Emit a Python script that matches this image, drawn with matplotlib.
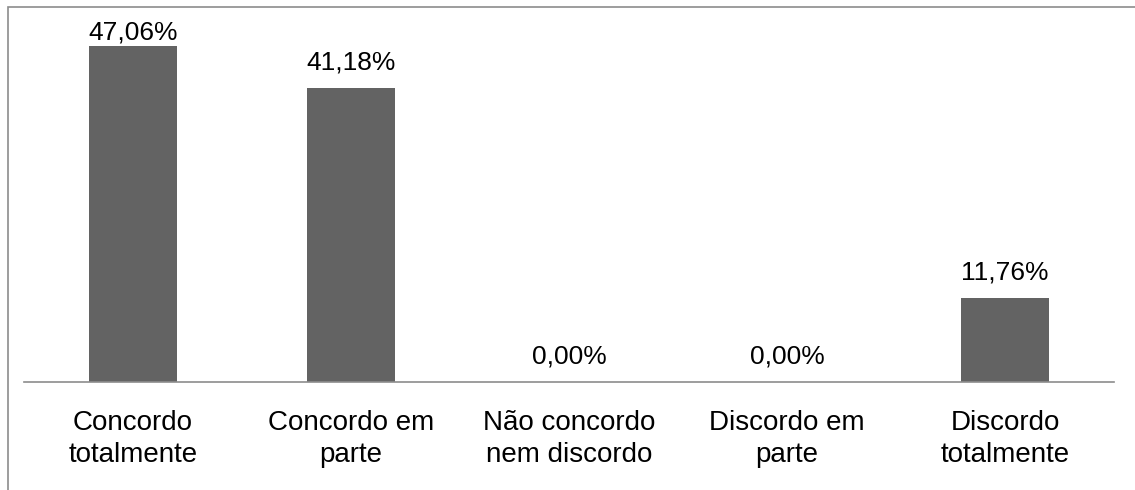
import matplotlib.pyplot as plt
from matplotlib.patches import Rectangle

categorias = ["Concordo\ntotalmente", "Concordo em\nparte", "Não concordo\nnem discordo",
              "Discordo em\nparte", "Discordo\ntotalmente"]
valores = [47.06, 41.18, 0.00, 0.00, 11.76]

plt.rcParams['font.family'] = ['Liberation Sans', 'DejaVu Sans']

fig = plt.figure(figsize=(11.35, 4.9), dpi=100)
ax = fig.add_axes([24 / 1135, 108 / 490, 1090 / 1135, 357 / 490])

x = range(len(valores))
bars = ax.bar(x, valores, width=0.404, color="#636363")
ax.set_xlim(-0.5, len(valores) - 0.5)
ax.set_ylim(0, 50)

# labels sit a little above the bar, but are kept inside the plot area
for b, v in zip(bars, valores):
    y = min(v + 2.65, 48.0)
    ax.text(b.get_x() + b.get_width() / 2, y, f"{v:.2f}%".replace(".", ","),
            ha="center", va="baseline", fontsize=19)

ax.set_xticks(list(x))
ax.set_xticklabels(categorias, fontsize=20, linespacing=1.3)
ax.tick_params(axis="x", length=0, pad=20)
ax.set_yticks([])
for s in ["left", "right", "top"]:
    ax.spines[s].set_visible(False)
ax.spines["bottom"].set_color("#8c8c8c")
ax.spines["bottom"].set_linewidth(1.2)

# chart frame (only left and top edges visible in the crop)
fig.patches.append(Rectangle((7.5 / 1135, -0.1), 1.2, 1.1 - 7 / 490, transform=fig.transFigure,
                             fill=False, edgecolor="#8c8c8c", linewidth=1.2))

fig.savefig("out.png", dpi=100)
